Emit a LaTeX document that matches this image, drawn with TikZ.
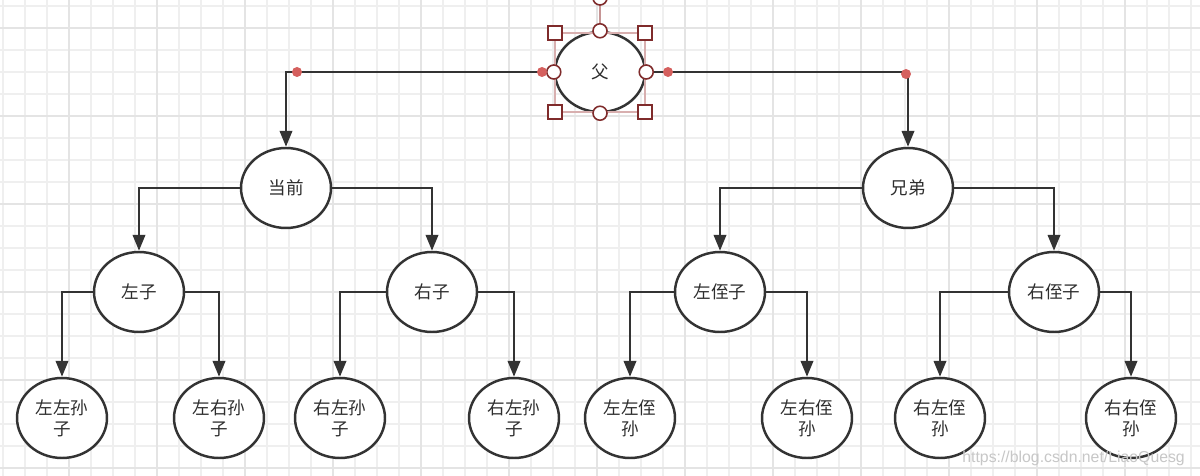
\documentclass[tikz,border=0pt]{standalone}
\usepackage{fontspec}
\setsansfont{Liberation Sans}
\newfontfamily\cjk{Noto Sans CJK SC}
\usetikzlibrary{shapes.geometric,arrows.meta}
\definecolor{gridminor}{HTML}{EFEFEF}
\definecolor{gridmajor}{HTML}{E4E4E4}
\definecolor{nodeline}{HTML}{333333}
\definecolor{textgray}{HTML}{2E2E2E}
\definecolor{handle}{HTML}{7F2B2B}
\definecolor{selbox}{HTML}{D8AFAF}
\definecolor{dotred}{HTML}{D5605E}

\begin{document}
\begin{tikzpicture}[x=0.02cm, y=-0.02cm, auto,
		main node/.style={ellipse,draw=nodeline,fill=white,line width=1.4pt,minimum width=1.8cm,
			minimum height=1.6cm,inner sep=0pt,align=center,text=textgray,
			font=\cjk\fontsize{10}{12}\selectfont},
		hv/.style={to path={-| (\tikztotarget)}},
		link/.style={draw=nodeline,line width=1.4pt,-{Triangle[length=9pt,width=7pt]}},
		sq handle/.style={draw=handle,fill=white,line width=0.9pt},
		red dot/.style={fill=dotred}]
	
	\useasboundingbox (0,0) rectangle (1200,476);
	\fill[white] (0,0) rectangle (1200,476);
	
	% grid
	\foreach \x in {3,25,...,1200} \draw[gridminor,line width=1.1pt] (\x,0) -- (\x,476);
	\foreach \y in {6,28,...,476} \draw[gridminor,line width=1.1pt] (0,\y) -- (1200,\y);
	\foreach \x in {69,157,...,1200} \draw[gridmajor,line width=1.1pt] (\x,0) -- (\x,476);
	\foreach \y in {28,116,...,476} \draw[gridmajor,line width=1.1pt] (0,\y) -- (1200,\y);
	
	\node[main node] (fu)   at (600,72)  {父};
	\node[main node] (cur)  at (286,188) {当前};
	\node[main node] (bro)  at (908,188) {兄弟};
	\node[main node] (l)    at (139,292) {左子};
	\node[main node] (r)    at (432,292) {右子};
	\node[main node] (ln)   at (720,292) {左侄子};
	\node[main node] (rn)   at (1054,292) {右侄子};
	\node[main node] (ll)   at (62,418)  {左左孙\\子};
	\node[main node] (lr)   at (219,418) {左右孙\\子};
	\node[main node] (rl)   at (340,418) {右左孙\\子};
	\node[main node] (rl2)  at (514,418) {右左孙\\子};
	\node[main node] (lnl)  at (630,418) {左左侄\\孙};
	\node[main node] (lnr)  at (807,418) {左右侄\\孙};
	\node[main node] (rnl)  at (940,418) {右左侄\\孙};
	\node[main node] (rnr)  at (1131,418) {右右侄\\孙};
	
	\path[every edge/.style={link,hv}]
	(fu.west) edge (cur.north)
	(fu.east) edge (bro.north)
	
	(cur.west) edge (l.north)
	(cur.east) edge (r.north)
	
	(bro.west) edge (ln.north)
	(bro.east) edge (rn.north)
	
	(l.west) edge (ll.north)
	(l.east) edge (lr.north)
	(r.west) edge (rl.north)
	(r.east) edge (rl2.north)
	
	(ln.west) edge (lnl.north)
	(ln.east) edge (lnr.north)
	(rn.west) edge (rnl.north)
	(rn.east) edge (rnr.north)
	;
	
	% selection handles
	\draw[selbox,line width=0.8pt] (555,33) rectangle (645,112);
	\draw[selbox!80!handle,line width=1.2pt] (600,33) -- (600,4);
	\draw[sq handle] (600,-2) circle[radius=7];
	\foreach \p in {(555,33),(645,33),(555,112),(645,112)}
		\draw[sq handle] \p ++(-7,-7) rectangle ++(14,14);
	\draw[sq handle] (fu.north) circle[radius=7];
	\draw[sq handle] (fu.south) circle[radius=7];
	\draw[sq handle] (fu.west) circle[radius=7];
	\draw[sq handle] (fu.east) circle[radius=7];
	\fill[red dot] (542,72) circle[radius=5];
	\fill[red dot] (668,72) circle[radius=5];
	\fill[red dot] (297,72) circle[radius=5];
	\fill[red dot] (906,74) circle[radius=5];
	
	\node[font=\sffamily\fontsize{9}{11}\selectfont,text=black!22,anchor=east] (mark) at (1191,458) {https://blog.csdn.net/LiaoQuesg};
\end{tikzpicture}
\end{document}
